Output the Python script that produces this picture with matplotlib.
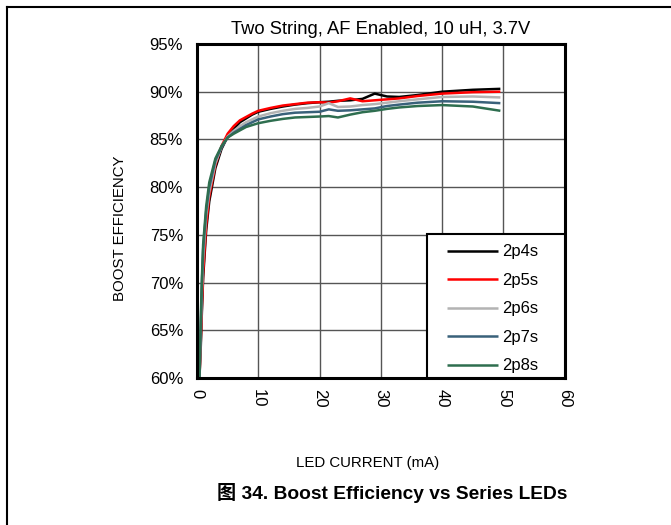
import matplotlib
matplotlib.use("Agg")
import matplotlib.pyplot as plt
from matplotlib.lines import Line2D
from matplotlib.patches import Rectangle

# LED current (mA)
current = [0.4, 0.6, 0.8, 1.0, 1.5, 2, 3, 4, 5, 6, 7, 8, 9, 10, 12, 14, 16, 18,
           20, 21.5, 23, 25, 27, 29, 31, 33, 36, 40, 45, 49.5]

# boost efficiency (%)
eff_2p4s = [60, 63, 67, 70.5, 75.5, 78.5, 82, 84, 85.3, 86.1, 86.8, 87.2, 87.6, 87.9,
            88.2, 88.45, 88.65, 88.8, 88.9, 88.95, 89.05, 89.1, 89.25, 89.8, 89.5,
            89.45, 89.65, 90.0, 90.2, 90.3]
eff_2p5s = [60, 63.5, 67.5, 71, 76, 79, 82.3, 84.3, 85.6, 86.4, 87.0, 87.35, 87.7, 88.0,
            88.3, 88.55, 88.7, 88.85, 88.9, 88.85, 89.0, 89.3, 89.0, 89.1, 89.2,
            89.3, 89.55, 89.8, 89.95, 90.0]
eff_2p6s = [60, 64.5, 69, 72.5, 77, 79.5, 82.5, 84.2, 85.3, 85.9, 86.4, 86.8, 87.1, 87.4,
            87.75, 88.0, 88.2, 88.3, 88.45, 88.8, 88.4, 88.45, 88.6, 88.7, 88.85,
            89.0, 89.2, 89.45, 89.5, 89.4]
eff_2p7s = [60, 65, 70, 73.5, 77.5, 80, 82.8, 84.2, 85.2, 85.7, 86.1, 86.5, 86.8, 87.1,
            87.4, 87.65, 87.8, 87.85, 87.9, 88.15, 88.0, 88.05, 88.15, 88.25, 88.5,
            88.65, 88.85, 89.0, 88.95, 88.8]
eff_2p8s = [60, 66, 70.5, 74, 78, 80.5, 83, 84.3, 85.2, 85.6, 85.95, 86.3, 86.5, 86.7,
            86.95, 87.15, 87.3, 87.35, 87.4, 87.45, 87.3, 87.6, 87.85, 88.0, 88.2,
            88.35, 88.5, 88.6, 88.45, 88.0]

labels = ["2p4s", "2p5s", "2p6s", "2p7s", "2p8s"]
colors = ["#000000", "#ff0000", "#b3b3b3", "#39617a", "#2e6e4f"]
x_ticks = [0, 10, 20, 30, 40, 50, 60]
y_ticks = [60, 65, 70, 75, 80, 85, 90, 95]

plt.rcParams["font.family"] = ["Liberation Sans", "Noto Sans CJK SC", "DejaVu Sans"]

fig = plt.figure(figsize=(6.71, 5.25), dpi=100)
ax = fig.add_axes([0.2936, 0.28, 0.548, 0.6362])

for y, color, label in zip([eff_2p4s, eff_2p5s, eff_2p6s, eff_2p7s, eff_2p8s], colors, labels):
    ax.plot(current, y, color=color, linewidth=1.8, label=label, solid_capstyle="butt")

ax.set_xlim(0, 60)
ax.set_ylim(60, 95)
ax.set_xticks(x_ticks)
ax.set_yticks(y_ticks)
ax.set_xticklabels([str(v) for v in x_ticks], rotation=-90, fontsize=12)
ax.set_yticklabels([f"{v}%" for v in y_ticks], fontsize=12)
ax.tick_params(axis="x", length=0, pad=8)
ax.tick_params(axis="y", length=0, pad=10)
ax.grid(True, color="#555555", linewidth=1.0)
ax.set_axisbelow(True)
for spine in ax.spines.values():
    spine.set_linewidth(2.2)
    spine.set_color("black")

ax.set_title("Two String, AF Enabled, 10 uH, 3.7V", fontsize=13.2, pad=7.5)

# legend box drawn as its own patch, entries placed inside it
ax.add_patch(Rectangle((0.625, 0.0), 0.375, 0.431, transform=ax.transAxes,
                       facecolor="white", edgecolor="black", linewidth=1.5, zorder=5))
leg = ax.legend(loc="upper left", bbox_to_anchor=(0.679, 0.400), borderaxespad=0,
                borderpad=0, fontsize=12, handlelength=3.1, labelspacing=0.81,
                handletextpad=0.25, frameon=False)
leg.set_zorder(6)

fig.text(120 / 671, 0.566, "BOOST EFFICIENCY", rotation=90,
         ha="center", va="center", fontsize=10.8)
fig.text(0.548, 0.118, "LED CURRENT (mA)", ha="center", va="center", fontsize=10.8)
fig.text(0.585, 0.061, "图 34. Boost Efficiency vs Series LEDs", ha="center", va="center",
         fontsize=13.8, fontweight="bold")

# page frame (top and left edges)
fig.add_artist(Line2D([7 / 671, 1.0], [1 - 7 / 525, 1 - 7 / 525], color="black",
                      linewidth=1.5, transform=fig.transFigure))
fig.add_artist(Line2D([7 / 671, 7 / 671], [0, 1 - 7 / 525], color="black",
                      linewidth=1.5, transform=fig.transFigure))

fig.savefig("out.png", dpi=100)
